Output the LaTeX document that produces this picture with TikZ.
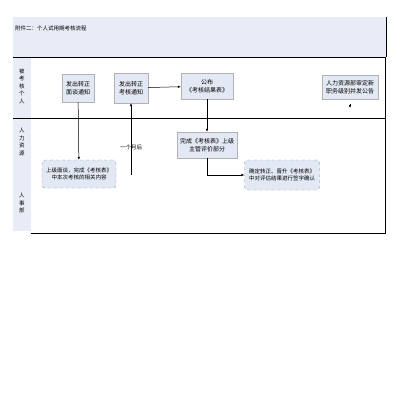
\documentclass[tikz,border=0pt]{standalone}
\usepackage{fontspec}
\newfontfamily\cjk{Noto Sans CJK SC}
\usepackage{xcolor}
\usetikzlibrary{positioning, arrows.meta}
\definecolor{lanefill}{RGB}{231,236,246}
\definecolor{boxfill}{RGB}{226,232,244}

\begin{document}
\begin{tikzpicture}[
  x=1pt, y=-1pt, >={Latex[length=3pt, width=2.6pt]},
  box/.style={fill=boxfill, draw=black!30, line width=0.4pt, align=center,
              inner sep=1pt, font=\cjk\fontsize{6}{8}\selectfont},
  rbox/.style={box, rounded corners=3pt, dashed, draw=black!45,
               font=\cjk\fontsize{5.5}{7.5}\selectfont},
  lane/.style={align=center, inner sep=0pt, font=\cjk\fontsize{5.5}{7.5}\selectfont},
  flow/.style={->, line width=0.5pt},
  frame/.style={line width=0.9pt},
]
\useasboundingbox (0,0) rectangle (400,410);

% --- title band and lane column ---
\fill[lanefill] (13,17) rectangle (386,57);
\fill[lanefill] (13,57) rectangle (31,231);
\node[lane, anchor=west] (title) at (15,28) {附件二：个人试用期考核流程};
\draw[frame] (386,17) -- (386,57);
\draw[frame] (13,57) -- (386,57);
\draw[frame] (13,118) -- (385,118);
\draw[frame] (31,233) -- (385,233) -- (385,57);

% --- lane labels ---
\node[lane] (laneA) at (22,86) {被\\考\\核\\个\\人};
\node[lane] (laneB) at (22,142) {人\\力\\资\\源};
\node[lane] (laneC) at (22,203) {人\\事\\部};

% --- top lane ---
\node[box, minimum width=32pt, minimum height=28pt] (notice) at (78,88) {发出转正\\面谈通知};
\node[box, minimum width=34pt, minimum height=30pt] (exam) at (131,88) {发出转正\\考核通知};
\node[box, minimum width=52pt, minimum height=26pt] (result) at (207,86) {公布\\《考核结果表》};
\node[box, minimum width=56pt, minimum height=24pt] (grade) at (350,87) {人力资源部审定新\\职务级别并发公告};

% --- lower lane ---
\node[box, minimum width=60pt, minimum height=26pt] (form) at (207,145) {完成《考核表》上级\\主管评价部分};
\node[rbox, minimum width=74pt, minimum height=28pt] (talk) at (79,174) {上级面谈，完成《考核表》\\中本次考核的相关内容};
\node[rbox, minimum width=75pt, minimum height=30pt] (sign) at (282,175) {确定转正、晋升《考核表》\\中对评估结果进行签字确认};
\coordinate (later) at (131,175);
\coordinate (gradeend) at (350,108);

% --- connectors ---
\draw[flow] (notice) -- (talk);
\draw[flow] (exam) -- (result);
\draw[flow] (result) -- (form);
\draw[flow] (form.south) |- (sign.west);
\draw[flow] (later) -- node[lane, pos=0.38] {一个月后} (exam.south);
\draw[flow, shorten <=5pt] (grade.south) -- (gradeend);
\end{tikzpicture}
\end{document}
